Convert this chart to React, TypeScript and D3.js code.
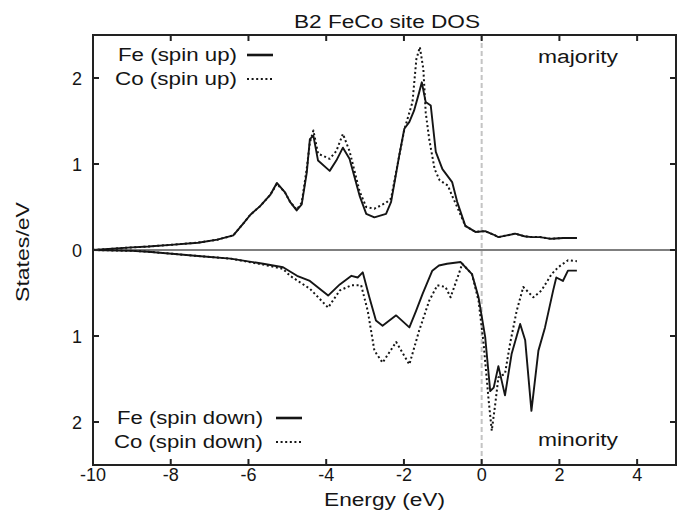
import { useEffect, useRef } from 'react';
import * as d3 from 'd3';

// majority channel (spin up), states/eV
const feUpEnergy = [-10, -9, -8.58, -8, -7.3, -6.8, -6.39, -6.13, -5.95, -5.7, -5.44, -5.27, -5.06, -4.93, -4.76, -4.63, -4.5, -4.42, -4.33, -4.21, -3.91, -3.74, -3.57, -3.4, -3.14, -2.97, -2.76, -2.46, -2.33, -2.12, -1.99, -1.86, -1.74, -1.61, -1.54, -1.44, -1.31, -1.18, -1.01, -0.76, -0.63, -0.42, -0.16, 0.09, 0.3, 0.43, 0.65, 0.86, 1.1, 1.28, 1.5, 1.79, 2.1, 2.45];
const feUpDos = [0, 0.03, 0.04, 0.06, 0.085, 0.12, 0.17, 0.31, 0.41, 0.51, 0.64, 0.78, 0.67, 0.56, 0.46, 0.53, 0.9, 1.29, 1.33, 1.04, 0.92, 1.04, 1.19, 1.06, 0.63, 0.42, 0.38, 0.42, 0.56, 1.1, 1.41, 1.49, 1.62, 1.83, 1.95, 1.72, 1.68, 1.14, 0.94, 0.79, 0.56, 0.28, 0.21, 0.22, 0.18, 0.15, 0.17, 0.19, 0.16, 0.15, 0.15, 0.13, 0.14, 0.14];

const coUpEnergy = [-10, -9, -8.58, -8, -7.3, -6.8, -6.39, -6.13, -5.95, -5.7, -5.44, -5.27, -5.06, -4.93, -4.76, -4.63, -4.5, -4.42, -4.33, -4.21, -3.91, -3.74, -3.57, -3.4, -3.14, -2.97, -2.76, -2.46, -2.33, -2.12, -1.99, -1.78, -1.68, -1.59, -1.5, -1.44, -1.35, -1.21, -1.08, -0.87, -0.76, -0.63, -0.42, -0.16, 0.09, 0.3, 0.43, 0.65, 0.86, 1.1, 1.28, 1.5, 1.79, 2.1, 2.45];
const coUpDos = [0, 0.03, 0.04, 0.06, 0.085, 0.12, 0.17, 0.31, 0.41, 0.51, 0.64, 0.77, 0.67, 0.56, 0.47, 0.55, 0.95, 1.25, 1.39, 1.12, 1.06, 1.15, 1.35, 1.15, 0.68, 0.5, 0.48, 0.55, 0.6, 1.1, 1.4, 1.72, 2.22, 2.36, 2.1, 1.6, 1.29, 0.94, 0.81, 0.75, 0.63, 0.5, 0.28, 0.21, 0.22, 0.18, 0.15, 0.17, 0.19, 0.16, 0.15, 0.15, 0.13, 0.14, 0.14];

// minority channel (spin down), drawn below zero
const feDownEnergy = [-10, -9, -8.58, -7.3, -6.46, -5.62, -5.11, -4.75, -4.42, -3.95, -3.65, -3.35, -3.19, -3.06, -2.89, -2.72, -2.55, -2.2, -1.86, -1.69, -1.52, -1.27, -1.1, -0.89, -0.54, -0.25, -0.08, 0.09, 0.22, 0.31, 0.43, 0.6, 0.77, 0.99, 1.12, 1.28, 1.46, 1.63, 1.84, 1.92, 2.09, 2.22, 2.45];
const feDownDos = [0, 0.01, 0.02, 0.07, 0.1, 0.16, 0.2, 0.3, 0.36, 0.53, 0.4, 0.3, 0.32, 0.26, 0.55, 0.82, 0.88, 0.76, 0.9, 0.71, 0.51, 0.24, 0.18, 0.16, 0.14, 0.28, 0.55, 1.01, 1.64, 1.6, 1.35, 1.69, 1.21, 0.86, 1.05, 1.87, 1.17, 0.9, 0.47, 0.32, 0.36, 0.24, 0.24];

const coDownEnergy = [-10, -9, -8.58, -7.3, -6.46, -5.62, -5.11, -4.93, -4.42, -3.95, -3.65, -3.35, -3.1, -2.93, -2.76, -2.55, -2.2, -1.86, -1.61, -1.35, -1.14, -0.93, -0.8, -0.59, -0.5, -0.25, -0.08, 0.05, 0.18, 0.26, 0.35, 0.43, 0.6, 0.73, 0.9, 1.07, 1.33, 1.54, 1.8, 1.97, 2.22, 2.45];
const coDownDos = [0, 0.01, 0.02, 0.07, 0.1, 0.17, 0.22, 0.3, 0.45, 0.67, 0.47, 0.41, 0.41, 0.71, 1.17, 1.31, 1.07, 1.33, 0.94, 0.59, 0.41, 0.43, 0.55, 0.28, 0.16, 0.28, 0.59, 1.09, 1.75, 2.1, 1.79, 1.48, 1.44, 1.09, 0.71, 0.43, 0.55, 0.47, 0.28, 0.2, 0.12, 0.13];

const xTicks = [-10, -8, -6, -4, -2, 0, 2, 4];
const yTicks = [-2, -1, 0, 1, 2];
const yTickLabels = ['2', '1', '0', '1', '2'];

const W = 677, H = 514;
const font = "'Liberation Sans', Arial, Helvetica, sans-serif";

const App = () => {
    const ref = useRef<SVGSVGElement>(null);

    useEffect(() => {
        const svg = d3.select(ref.current);
        svg.selectAll('*').remove();

        const x = d3.scaleLinear().domain([-10, 5]).range([93, 676]);
        const y = d3.scaleLinear().domain([-2.5, 2.5]).range([465, 35]);

        const line = d3.line<[number, number]>()
            .x(d => x(d[0]))
            .y(d => y(d[1]));

        const ink = '#151515';

        // fermi level
        svg.append('line')
            .attr('x1', x(0)).attr('x2', x(0))
            .attr('y1', y(2.5)).attr('y2', y(-2.5))
            .attr('stroke', '#c4c4c4').attr('stroke-width', 2)
            .attr('stroke-dasharray', '5,3');

        // zero axis
        svg.append('line')
            .attr('x1', x(-10)).attr('x2', x(5))
            .attr('y1', y(0)).attr('y2', y(0))
            .attr('stroke', '#555').attr('stroke-width', 1.6);

        const series = [
            { e: feUpEnergy, v: feUpDos, sign: 1, dash: null },
            { e: coUpEnergy, v: coUpDos, sign: 1, dash: '2,2.6' },
            { e: feDownEnergy, v: feDownDos, sign: -1, dash: null },
            { e: coDownEnergy, v: coDownDos, sign: -1, dash: '2,2.6' },
        ];
        series.forEach(s => {
            const pts = s.e.map((e, i) => [e, s.sign * s.v[i]] as [number, number]);
            svg.append('path')
                .attr('d', line(pts))
                .attr('fill', 'none')
                .attr('stroke', ink)
                .attr('stroke-width', s.dash ? 2 : 1.9)
                .attr('stroke-linejoin', 'round')
                .attr('stroke-dasharray', s.dash);
        });

        // frame
        svg.append('rect')
            .attr('x', x(-10)).attr('y', y(2.5))
            .attr('width', x(5) - x(-10)).attr('height', y(-2.5) - y(2.5))
            .attr('fill', 'none').attr('stroke', '#222').attr('stroke-width', 2);

        // ticks, gnuplot style (inward on all four sides)
        const tk = 6;
        xTicks.forEach(t => {
            svg.append('line').attr('x1', x(t)).attr('x2', x(t))
                .attr('y1', y(-2.5)).attr('y2', y(-2.5) - tk)
                .attr('stroke', '#222').attr('stroke-width', 2);
            svg.append('line').attr('x1', x(t)).attr('x2', x(t))
                .attr('y1', y(2.5)).attr('y2', y(2.5) + tk)
                .attr('stroke', '#222').attr('stroke-width', 2);
            svg.append('text')
                .attr('x', x(t)).attr('y', 481)
                .attr('text-anchor', 'middle')
                .attr('font-family', font).attr('font-size', 18)
                .attr('fill', ink)
                .text(t);
        });
        yTicks.forEach((t, i) => {
            svg.append('line').attr('x1', x(-10)).attr('x2', x(-10) + tk)
                .attr('y1', y(t)).attr('y2', y(t))
                .attr('stroke', '#222').attr('stroke-width', 2);
            svg.append('line').attr('x1', x(5)).attr('x2', x(5) - tk)
                .attr('y1', y(t)).attr('y2', y(t))
                .attr('stroke', '#222').attr('stroke-width', 2);
            svg.append('text')
                .attr('x', 82).attr('y', y(t) + 6.5)
                .attr('text-anchor', 'end')
                .attr('font-family', font).attr('font-size', 18)
                .attr('fill', ink)
                .text(yTickLabels[i]);
        });

        const label = (txt: string, tx: number, ty: number, len: number, anchor = 'start') => {
            svg.append('text')
                .attr('x', tx).attr('y', ty)
                .attr('text-anchor', anchor)
                .attr('font-family', font).attr('font-size', 18)
                .attr('fill', ink)
                .attr('textLength', len)
                .attr('lengthAdjust', 'spacingAndGlyphs')
                .text(txt);
        };

        label('B2 FeCo site DOS', 294, 28, 186);
        label('Energy (eV)', 324, 506, 121);
        label('majority', 538, 63, 80);
        label('minority', 538, 446, 80);

        // legends
        label('Fe (spin up)', 118, 61, 119);
        label('Co (spin up)', 115, 85, 122);
        label('Fe (spin down)', 117, 424, 146);
        label('Co (spin down)', 114, 448, 149);

        const sample = (x1: number, x2: number, yy: number, dash: string | null) => {
            svg.append('line')
                .attr('x1', x1).attr('x2', x2).attr('y1', yy).attr('y2', yy)
                .attr('stroke', ink).attr('stroke-width', dash ? 2 : 2.6)
                .attr('stroke-dasharray', dash);
        };
        sample(247, 273, 55, null);
        sample(247, 273, 79, '2,2.6');
        sample(276, 302, 418, null);
        sample(276, 302, 442, '2,2.6');

        // y axis title
        svg.append('text')
            .attr('transform', 'translate(29,252) rotate(-90)')
            .attr('text-anchor', 'middle')
            .attr('font-family', font).attr('font-size', 19)
            .attr('fill', ink)
            .attr('textLength', 100)
            .attr('lengthAdjust', 'spacingAndGlyphs')
            .text('States/eV');
    }, []);

    return (
        <svg
            ref={ref}
            width={W}
            height={H}
            style={{ position: 'absolute', left: 0, top: 0, background: '#fff' }}
        />
    );
};

export default App;
